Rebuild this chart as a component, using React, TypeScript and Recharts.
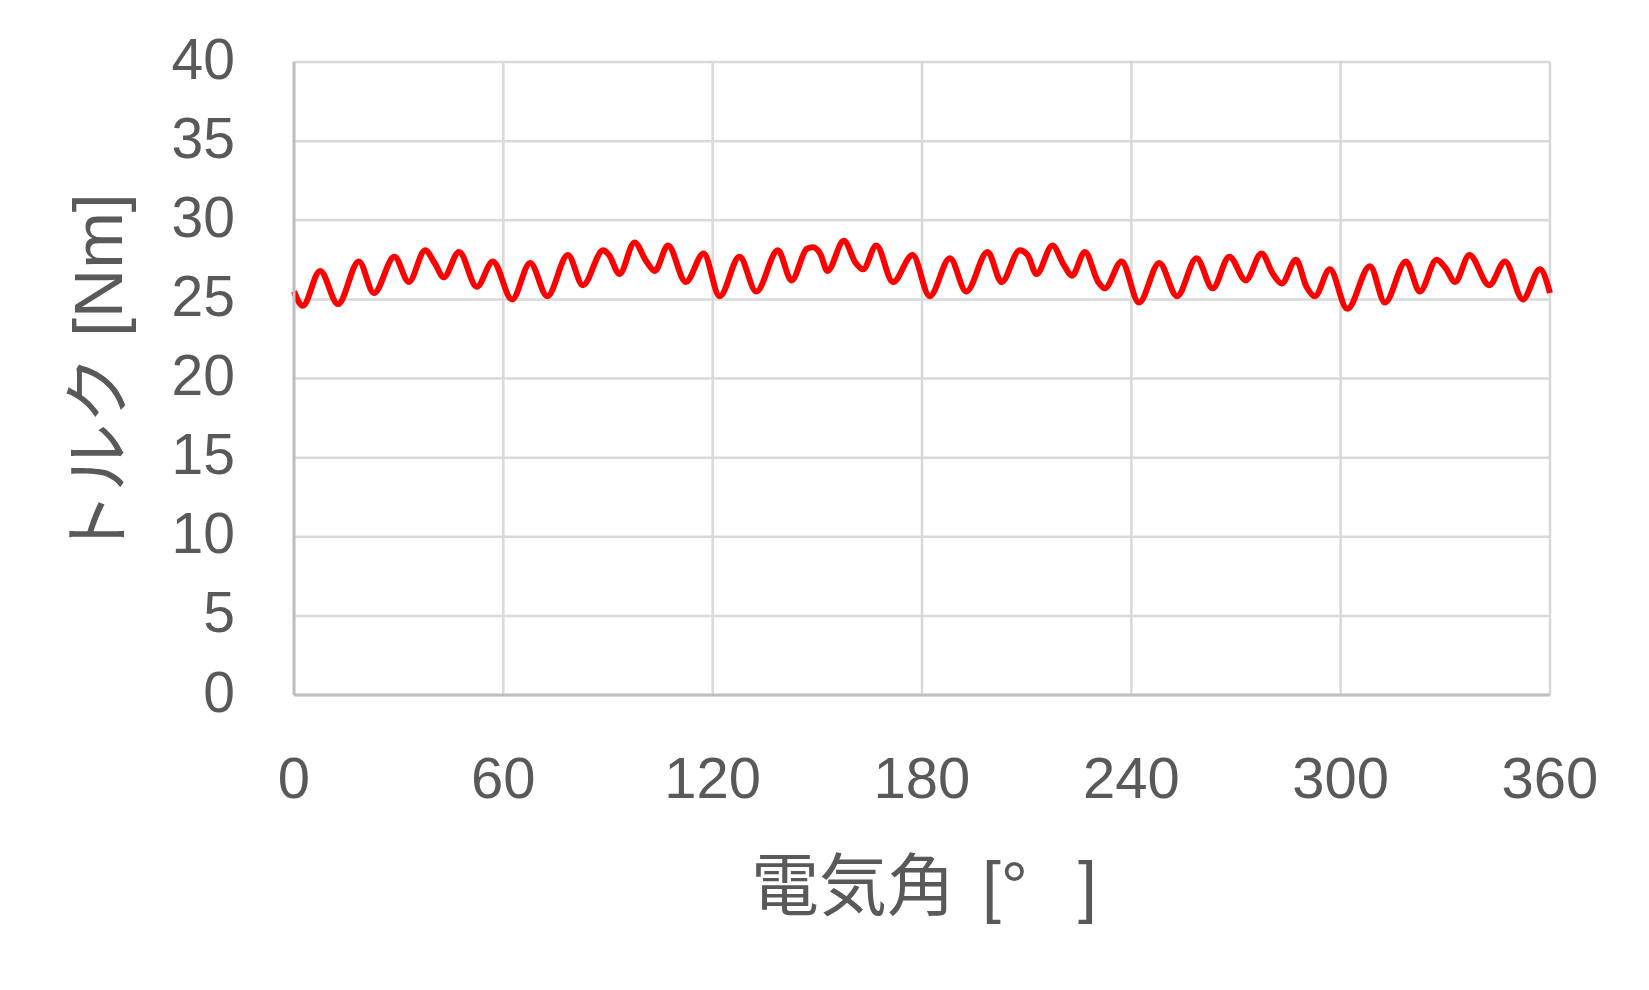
import { LineChart, Line, XAxis, YAxis, CartesianGrid, Label } from 'recharts';

// electrical angle [deg] and torque [Nm]
const angles = [
    0, 2.5, 7.5, 12.6, 18.6, 22.9, 28.8, 32.9, 37.6, 40.3, 42.9, 47.3, 52.4, 57.0, 62.5, 67.7, 72.6, 78.5, 82.8, 88.6,
    90.3, 93.3, 97.6, 101.0, 103.4, 107.2, 112.3, 117.4, 122.0, 127.7, 132.5, 138.7, 142.6, 147.0, 148.8, 150.8, 152.9,
    157.6, 161.0, 163.1, 166.9, 171.7, 177.3, 182.2, 188.0, 192.7, 198.8, 202.8, 208.0, 210.3, 212.8, 217.4, 220.6,
    223.0, 226.7, 230.5, 232.4, 237.2, 242.2, 248.0, 253.1, 258.7, 263.3, 268.1, 272.8, 277.3, 280.6, 283.1, 287.2,
    290.2, 292.6, 296.9, 301.9, 308.4, 312.7, 318.7, 322.7, 327.5, 330.0, 332.8, 336.9, 342.6, 347.1, 352.2, 357.1, 360,
];
const torque = [
    25.5, 24.6, 26.8, 24.7, 27.4, 25.4, 27.7, 26.1, 28.1, 27.3, 26.4, 28.0, 25.8, 27.4, 25.0, 27.3, 25.2, 27.8, 25.9, 28.1,
    27.8, 26.6, 28.6, 27.4, 26.8, 28.4, 26.1, 27.9, 25.2, 27.7, 25.5, 28.1, 26.2, 28.2, 28.3, 27.9, 26.8,
    28.7, 27.3, 26.9, 28.4, 26.1, 27.8, 25.2, 27.6, 25.5, 28.0, 26.1, 28.1, 27.8, 26.6, 28.4, 27.2,
    26.5, 28.0, 26.1, 25.7, 27.4, 24.8, 27.3, 25.2, 27.6, 25.7, 27.7, 26.2, 27.9, 26.6, 26.0, 27.5,
    25.8, 25.2, 26.9, 24.4, 27.1, 24.8, 27.4, 25.5, 27.5, 27.0, 26.1, 27.8, 25.9, 27.4, 25.0, 26.9, 25.4,
];

const xTicks = [0, 60, 120, 180, 240, 300, 360];
const yTicks = [0, 5, 10, 15, 20, 25, 30, 35, 40];

const data = angles.map((a, i) => ({ angle: a, torque: torque[i] }));

const TEXT = '#595959';

function XTick(props: any) {
    const { x, y, payload } = props;
    return (
        <text x={x} y={y + 3} dy="0.72em" textAnchor="middle" fill={TEXT} fontSize={58}>
            {payload.value}
        </text>
    );
}

function YTick(props: any) {
    const { x, y, payload } = props;
    return (
        <text x={x} y={y - 4} dy="0.36em" textAnchor="end" fill={TEXT} fontSize={57}>
            {payload.value}
        </text>
    );
}

function YTitle(props: any) {
    const { x, y, height } = props.viewBox;
    const cx = x + 98;
    const cy = y + height / 2 - 2;
    return (
        <text x={cx} y={cy} transform={`rotate(-90, ${cx}, ${cy})`} textAnchor="middle" dominantBaseline="central" fill={TEXT} fontSize={68}>
            トルク [Nm]
        </text>
    );
}

function XTitle(props: any) {
    const { x, y, width } = props.viewBox;
    return (
        <text x={x + width / 2 + 2} y={y + 191} textAnchor="middle" dominantBaseline="central" fill={TEXT} fontSize={68}>
            電気角<tspan dx={8}> [°</tspan><tspan dx={50}>]</tspan>
        </text>
    );
}

export default function App() {
    return (
        <div style={{ position: 'absolute', left: 0, top: 0, width: 1649, height: 990, background: '#fff', fontFamily: '"Liberation Sans", Arial, "Noto Sans CJK JP", sans-serif' }}>
            <LineChart width={1649} height={990} data={data} margin={{ top: 62, right: 99, left: 0, bottom: 0 }}>
                <CartesianGrid stroke="#d9d9d9" strokeWidth={2.5} />
                <XAxis
                    dataKey="angle"
                    type="number"
                    domain={[0, 360]}
                    ticks={xTicks}
                    height={295}
                    tickLine={false}
                    tickSize={0}
                    tickMargin={58}
                    axisLine={{ stroke: '#bfbfbf', strokeWidth: 3 }}
                    tick={XTick}
                    interval={0}
                >
                    <Label content={XTitle} />
                </XAxis>
                <YAxis
                    type="number"
                    domain={[0, 40]}
                    ticks={yTicks}
                    width={294}
                    tickLine={false}
                    tickSize={0}
                    tickMargin={59}
                    axisLine={{ stroke: '#bfbfbf', strokeWidth: 3 }}
                    tick={YTick}
                    interval={0}
                >
                    <Label content={YTitle} />
                </YAxis>
                <Line dataKey="torque" type="monotone" stroke="#ff0000" strokeWidth={6} dot={false} isAnimationActive={false} />
            </LineChart>
        </div>
    );
}
